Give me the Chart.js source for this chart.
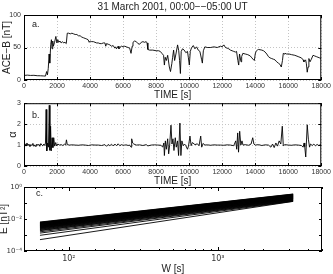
<!DOCTYPE html>
<html><head><meta charset="utf-8">
<script src="https://cdn.jsdelivr.net/npm/chart.js@4.4.1/dist/chart.umd.min.js"></script>
<style>
html,body{margin:0;padding:0;background:#fff;overflow:hidden;width:333px;height:274px}
canvas{position:absolute;left:0}
#ca{top:0}#cb{top:96px}#cc{top:180px}
</style></head><body>
<canvas id="ca" width="333" height="101" style="width:333px;height:101px"></canvas>
<canvas id="cb" width="333" height="91" style="width:333px;height:91px"></canvas>
<canvas id="cc" width="333" height="95" style="width:333px;height:95px"></canvas>
<script>
// ---------- DATA ----------
const title = "31 March 2001, 00:00\u2212\u221205:00 UT";
const timeTicks = [0,2000,4000,6000,8000,10000,12000,14000,16000,18000];
const bTicks = [0,50,100];
const alphaTicks = [0,1,2,3];

// Panel a: ACE magnetic field magnitude
const timeA = [
 0,200,400,600,800,1000,1200,1300,1370,1420,
 1470,1520,1560,1620,1660,1700,1740,1780,1850,1930,
 1990,2050,2100,2180,2250,2330,2400,2480,2560,2620,
 2700,2800,2900,3000,3100,3200,3300,3400,3500,3600,
 3700,3800,3880,3950,4000,4100,4200,4300,4400,4500,
 4600,4700,4800,4900,4950,5000,5100,5200,5300,5400,
 5500,5550,5600,5700,5750,5800,5900,6000,6100,6200,
 6300,6400,6480,6550,6600,6700,6800,6900,7000,7100,
 7200,7300,7400,7450,7500,7600,7800,8000,8150,8250,
 8350,8450,8500,8550,8620,8700,8800,8870,8950,9000,
 9060,9120,9200,9300,9370,9420,9470,9520,9600,9700,
 9800,9900,9950,10010,10070,10150,10250,10350,10450,10550,
 10650,10750,10800,10860,10950,11100,11300,11500,11700,11900,
 12000,12100,12200,12300,12400,12500,12600,12700,12800,12870,
 12950,13000,13050,13140,13180,13250,13400,13550,13700,13800,
 13900,13950,14000,14050,14130,14200,14400,14500,14600,14700,
 14800,14900,15000,15100,15200,15300,15400,15500,15580,15650,
 15700,15760,15800,15900,16050,16200,16400,16600,16800,16900,
 16950,17050,17100,17150,17200,17250,17320,17400,17500,17600,
 17700,17800,17900,18000];
const aceB = [
 7,7.5,7,7.2,6.6,6.5,6.2,6,13,8,
 18,40,26,55,62,48,60,52,58,67,
 57,62,58,60,57,59,57,58,56,72,
 72,71,72,71,70,70,68,68,66,65,
 64,63,62,58,60,59,59,58,57,57,
 56,56,57,57,52,56,55,54,52,53,
 49,51,48,52,48,50,52,51,52,51,
 50,49,41,52,58,60,59,56,55,58,
 59,58,59,57,47,46,46,45,45,44,
 41,38,23,35,30,38,20,13,25,35,
 46,30,40,54,45,30,10,44,48,46,
 42,44,35,23,44,50,53,48,51,46,
 44,32,26,45,51,50,50,51,50,52,
 51,54,50,49,48,46,45,44,43,44,
 30,23,40,28,36,41,40,39,37,34,
 31,30,40,44,46,47,46,45,43,40,
 36,34,33,32,31,28,26,24,20,30,
 41,40,41,40,40,39,38,36,34,31,
 28,31,25,12,20,33,28,32,38,37,
 36,35,34,33];

// Panel b: alpha
const timeB = [
 0,60,120,180,240,300,360,420,480,540,
 600,660,720,780,840,900,960,1020,1080,1140,
 1200,1260,1300,1340,1380,1430,1480,1530,1570,1610,
 1650,1700,1750,1800,1860,1920,1980,2050,2150,2250,
 2350,2450,2520,2570,2620,2750,2900,3100,3300,3500,
 3700,3900,4100,4300,4500,4700,4900,5000,5100,5200,
 5300,5400,5500,5600,5700,5800,5900,6000,6100,6200,
 6300,6400,6480,6520,6580,6650,6800,7000,7200,7400,
 7500,7700,7900,8100,8300,8400,8470,8500,8560,8620,
 8700,8760,8820,8900,8960,9020,9080,9160,9220,9300,
 9360,9440,9500,9560,9640,9720,9800,9900,9960,10050,
 10120,10200,10350,10500,10600,10700,10760,10850,10950,11100,
 11300,11500,11700,11900,12100,12300,12500,12700,12820,12880,
 12940,12990,13060,13130,13200,13260,13400,13600,13750,13850,
 13920,14000,14200,14400,14600,14800,14950,15050,15150,15250,
 15350,15450,15550,15640,15700,15800,16000,16200,16400,16600,
 16800,16900,16960,17000,17060,17150,17220,17290,17350,17450,
 17550,17650,17750,17850,17950,18000];
const alpha = [
 1.0,1.06,0.95,1.1,0.97,1.05,0.92,1.03,0.97,1.08,
 0.94,1.01,0.92,1.05,0.98,1.04,0.94,1.07,1.0,0.96,
 1.05,0.98,1.1,2.7,0.72,1.1,0.9,2.9,0.75,1.9,
 0.72,1.35,0.88,1.35,0.95,1.12,0.96,1.05,1.0,1.02,
 0.98,1.04,1.0,1.25,1.02,1.0,1.01,1.0,0.99,1.01,
 1.0,0.98,1.01,1.0,1.0,0.98,1.02,0.94,1.03,0.97,
 1.04,0.96,1.05,0.97,1.06,0.97,1.02,0.99,1.0,1.01,
 0.98,1.0,0.9,1.3,1.1,1.05,1.0,1.01,0.98,1.02,
 0.96,1.0,1.01,1.0,0.99,0.9,1.1,0.5,1.2,0.8,
 1.3,0.58,1.0,1.95,1.05,1.3,0.74,1.35,0.9,1.2,
 0.5,2.05,0.5,1.2,0.97,1.05,0.97,0.8,0.95,1.43,
 0.97,1.12,1.02,1.06,0.97,1.43,0.9,1.08,1.0,1.01,
 0.99,1.01,1.0,1.0,0.99,1.01,1.0,0.97,1.2,0.8,
 1.58,0.66,1.66,1.0,1.2,1.0,1.02,0.99,1.05,1.35,
 1.05,1.0,1.02,0.98,1.01,1.0,0.9,1.05,0.88,1.1,
 0.95,1.2,1.05,1.9,0.97,1.02,1.0,0.99,1.01,1.0,
 0.98,0.9,1.1,0.92,0.43,1.97,1.28,0.9,1.05,0.98,
 1.04,0.97,1.03,0.98,1.02,1.0];

// Panel c: E(W) power-law lines, each from W=64 s to W=3200 s (log10 of E)
const wStart = 64, wEnd = 3200;
const logEStart = [-2.19,-2.21,-2.23,-2.24,-2.26,-2.27,-2.29,-2.30,-2.32,-2.33,-2.35,-2.36,-2.38,-2.39,-2.41,-2.42,-2.44,-2.45,-2.47,-2.49,-2.51,-2.53,-2.55,-2.57,-2.60,-2.63,-2.66,-2.70,-2.73,-2.80,-2.88,-3.02,-3.29];
const logEEnd   = [-0.44,-0.45,-0.47,-0.48,-0.50,-0.51,-0.52,-0.54,-0.55,-0.56,-0.58,-0.59,-0.60,-0.62,-0.63,-0.64,-0.66,-0.67,-0.68,-0.70,-0.71,-0.72,-0.74,-0.75,-0.77,-0.78,-0.80,-0.82,-0.84,-0.86,-0.87,-0.89,-0.90];
const eTickLabels = {"0":"10\u2070","-2":"10\u207B\u00B2","-4":"10\u207B\u2074"};
const wTickLabels = {"2":"10\u00B2","3":"10\u00B3"};

// ---------- CHARTS ----------
Chart.defaults.font.family = "'Liberation Sans', Arial, Helvetica, sans-serif";
Chart.defaults.color = '#222';
Chart.defaults.animation = false;

const isDecade = v => Math.abs(Math.log10(v) - Math.round(Math.log10(v))) < 1e-6;
const supFont = {size: 8, family: "'DejaVu Sans', sans-serif"};

function frame(label, lx, ly, logX, logY) {
  return {
    id: 'frame',
    afterDatasetsDraw(chart) {
      const {ctx, chartArea: a} = chart;
      const xs = chart.scales.x, ys = chart.scales.y;
      ctx.save();
      ctx.setLineDash([]);
      ctx.strokeStyle = '#000';
      ctx.lineWidth = 1;
      ctx.beginPath();
      xs.ticks.forEach(t => {
        const p = Math.round(xs.getPixelForValue(t.value)) + 0.5;
        const L = logX ? (isDecade(t.value) ? 4 : 2) : 3;
        ctx.moveTo(p, a.bottom); ctx.lineTo(p, a.bottom - L);
        ctx.moveTo(p, a.top); ctx.lineTo(p, a.top + L);
      });
      ys.ticks.forEach(t => {
        if (logY && !isDecade(t.value)) return;
        const p = Math.round(ys.getPixelForValue(t.value)) + 0.5;
        ctx.moveTo(a.left, p); ctx.lineTo(a.left + 3, p);
        ctx.moveTo(a.right, p); ctx.lineTo(a.right - 3, p);
      });
      ctx.stroke();
      ctx.strokeRect(a.left + 0.5, a.top + 0.5, a.width - 1, a.height - 1);
      ctx.fillStyle = '#222';
      ctx.font = "9px 'Liberation Sans', Arial, sans-serif";
      ctx.textBaseline = 'middle';
      ctx.fillText(label, a.left + lx, a.top + ly);
      ctx.restore();
    }
  };
}

function linAxis(min, max, ticksArr, titleText, h) {
  return {
    type: 'linear', min, max,
    afterBuildTicks: s => { s.ticks = ticksArr.map(v => ({value: v})); },
    afterFit: s => { s.height = h; },
    ticks: {font: {size: 7}, color: '#333', padding: 2, maxRotation: 0, autoSkip: false, callback: v => String(v)},
    grid: {color: '#c4c4c4', lineWidth: 1, drawTicks: false},
    border: {display: false, dash: [1, 2]},
    title: {display: true, text: titleText, font: {size: 10}, padding: {top: 0, bottom: 0}, color: '#222'}
  };
}

function yLin(min, max, ticksArr, titleText, tpad, tsize) {
  return {
    type: 'linear', min, max,
    afterBuildTicks: s => { s.ticks = ticksArr.map(v => ({value: v})); },
    afterFit: s => { s.width = 24; },
    ticks: {font: {size: 7}, color: '#333', padding: 3, callback: v => String(v)},
    grid: {color: '#c4c4c4', lineWidth: 1, drawTicks: false},
    border: {display: false, dash: [1, 2]},
    title: {display: true, text: titleText, font: {size: tsize || 10}, padding: {top: tpad, bottom: 0}, color: '#222'}
  };
}

// Panel a
new Chart(document.getElementById('ca'), {
  type: 'line',
  data: {datasets: [{data: timeA.map((t, i) => ({x: t, y: aceB[i]})), borderColor: '#000', borderWidth: 0.9, pointRadius: 0, tension: 0}]},
  options: {
    responsive: false, parsing: false,
    layout: {padding: {left: 0, right: 11, top: 0, bottom: 0}},
    plugins: {legend: {display: false}, tooltip: {enabled: false},
      title: {display: true, text: title, fullSize: false, font: {size: 10, weight: 'normal'}, color: '#222', padding: {top: 1, bottom: 2}}},
    scales: {
      x: linAxis(0, 18000, timeTicks, 'TIME [s]', 21),
      y: yLin(0, 100, bTicks, 'ACE\u2212B [nT]', 1)
    }
  },
  plugins: [frame('a.', 8, 10, false, false)]
});

// Panel b
new Chart(document.getElementById('cb'), {
  type: 'line',
  data: {datasets: [{data: timeB.map((t, i) => ({x: t, y: alpha[i]})), borderColor: '#000', borderWidth: 0.9, pointRadius: 0, tension: 0}]},
  options: {
    responsive: false, parsing: false,
    layout: {padding: {left: 0, right: 11, top: 5, bottom: 0}},
    plugins: {legend: {display: false}, tooltip: {enabled: false}},
    scales: {
      x: linAxis(0, 18000, timeTicks, 'TIME [s]', 21),
      y: yLin(0, 3, alphaTicks, '\u03B1', 6, 11)
    }
  },
  plugins: [frame('b.', 8, 12, false, false)]
});

// Panel c
const eSets = logEStart.map((s, i) => ({
  data: [{x: wStart, y: Math.pow(10, s)}, {x: wEnd, y: Math.pow(10, logEEnd[i])}],
  borderColor: '#000', borderWidth: 0.9, pointRadius: 0, tension: 0
}));
new Chart(document.getElementById('cc'), {
  type: 'line',
  data: {datasets: eSets},
  options: {
    responsive: false, parsing: false,
    layout: {padding: {left: 0, right: 11, top: 7, bottom: 0}},
    plugins: {legend: {display: false}, tooltip: {enabled: false}},
    scales: {
      x: {
        type: 'logarithmic', min: 50, max: 5000,
        afterFit: s => { s.height = 24; },
        ticks: {font: supFont, color: '#333', padding: 3, maxRotation: 0, autoSkip: false,
          callback: v => { const k = String(Math.round(Math.log10(v))); return isDecade(v) && wTickLabels[k] ? wTickLabels[k] : ''; }},
        grid: {display: false, drawTicks: false},
        border: {display: false},
        title: {display: true, text: 'W [s]', font: {size: 10}, padding: {top: 0, bottom: 0}, color: '#222'}
      },
      y: {
        type: 'logarithmic', min: 1e-4, max: 1,
        afterFit: s => { s.width = 24; },
        ticks: {font: {size: 7, family: "'DejaVu Sans', sans-serif"}, color: '#333', padding: 2, autoSkip: false,
          callback: v => { const k = String(Math.round(Math.log10(v))); return isDecade(v) && eTickLabels[k] ? eTickLabels[k] : ''; }},
        grid: {display: false, drawTicks: false},
        border: {display: false},
        title: {display: true, text: 'E [nT\u00B2]', font: {size: 10}, padding: {top: -2, bottom: 0}, color: '#222'}
      }
    }
  },
  plugins: [frame('c.', 12, 7, true, true)]
});
</script>
</body></html>
